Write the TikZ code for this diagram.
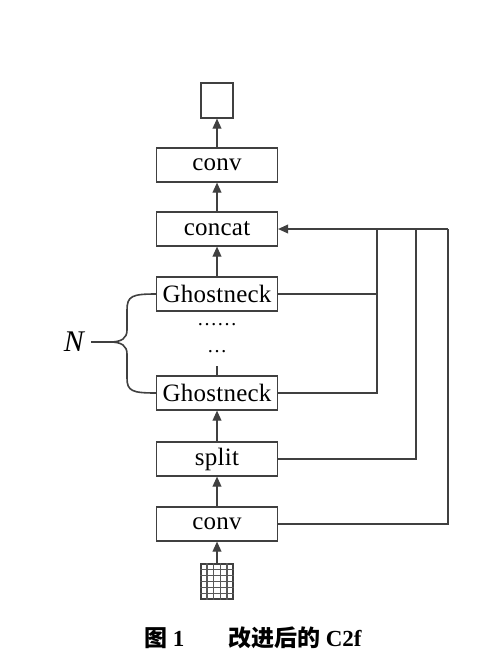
\documentclass[tikz,border=0pt]{standalone}
\usepackage{fontspec}
\setmainfont{Liberation Serif}
\newfontfamily\cjk{Noto Sans CJK SC}
\usetikzlibrary{arrows.meta,positioning,calc}

\begin{document}
\begin{tikzpicture}[
        x=0.5pt, y=-0.5pt,
        block/.style={draw=black!75, line width=0.6pt, minimum width=60.5pt, minimum height=17pt, inner sep=0pt, font=\fontsize{12.5}{14}\selectfont\addfontfeature{LetterSpace=1}},
        cell/.style={draw=black!75, line width=0.6pt, minimum width=16pt, minimum height=17.5pt, inner sep=0pt},
        link/.style={black!75, line width=0.6pt},
        flow/.style={link, -{Triangle[length=5pt, width=4.4pt]}},
    ]
        \useasboundingbox (0,0) rectangle (500,670);

        % Main column
        \foreach \name/\y/\text in {
            conva/524/conv,
            split/459/split,
            ghostb/393/Ghostneck,
            ghosta/294/Ghostneck,
            concat/229/concat,
            convb/165/conv
        } {
            \node[block] (\name) at (217, \y) {\text};
        }
        \node[cell] (out) at (217, 100.5) {};
        \node[cell] (inp) at (217, 581.5) {};
        \node[font=\fontsize{10}{12}\selectfont] (dotsa) at (217, 325) {……};
        \node[font=\fontsize{10}{12}\selectfont] (dotsb) at (217, 352) {…};
        \coordinate (gap) at (217, 366);

        % Input grid
        \foreach \i in {1,...,4} {
            \draw[link, black!65] ($(inp.south west)!\i/5!(inp.south east)$) -- ($(inp.north west)!\i/5!(inp.north east)$);
        }
        \foreach \j in {1,...,5} {
            \draw[link, black!65] ($(inp.south west)!\j/6!(inp.north west)$) -- ($(inp.south east)!\j/6!(inp.north east)$);
        }

        % Vertical flow
        \foreach \a/\b in {inp/conva, conva/split, split/ghostb, ghosta/concat, concat/convb, convb/out} {
            \draw[flow] (\a) -- (\b);
        }
        \draw[link] (ghostb) -- (gap);

        % Shortcut lines into concat
        \coordinate (busa) at (377, 229);
        \coordinate (busb) at (416, 229);
        \coordinate (busc) at (448, 229);
        \draw[link] (ghosta.east) -- (ghosta.east -| busa);
        \draw[link] (ghostb.east) -| (busa);
        \draw[link] (split.east) -| (busb);
        \draw[link] (conva.east) -| (busc);
        \draw[flow] (busc) -- (concat.east);

        % Brace for N
        \node[font=\fontsize{15}{18}\selectfont\itshape] (n) at (74, 342) {N};
        \coordinate (tip) at (110, 342);
        \draw[link, line width=0.8pt] (ghosta.west) .. controls (132, 294) and (127, 296) .. (127, 310) -- (127, 330)
            .. controls (127, 338) and (122, 342) .. (tip)
            .. controls (122, 342) and (127, 346) .. (127, 354) -- (127, 378)
            .. controls (127, 391) and (132, 393) .. (ghostb.west);
        \draw[link, line width=0.8pt] (n) -- (tip);

        % Caption
        \node[anchor=west, font=\fontsize{11.5}{14}\selectfont\bfseries] (cap) at (137, 638) {{\cjk 图}~1\hspace{1.9em}{\cjk 改进后的}~C2f};
    \end{tikzpicture}
\end{document}
